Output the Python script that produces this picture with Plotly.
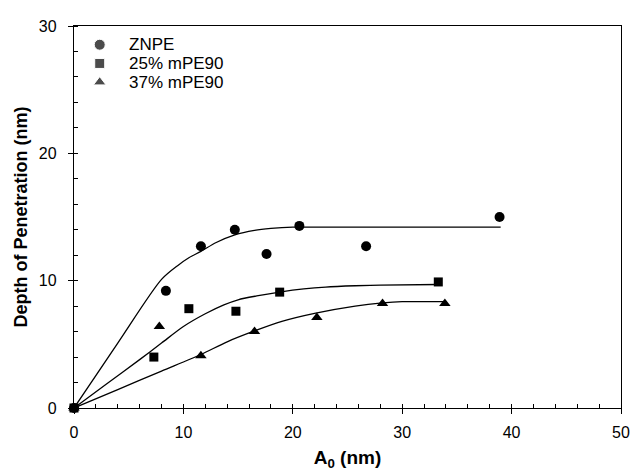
import plotly.graph_objects as go

# Measured data points
znpe_x = [0, 8.4, 11.6, 14.7, 17.6, 20.6, 26.7, 38.9]
znpe_y = [0, 9.2, 12.7, 14.0, 12.1, 14.3, 12.7, 15.0]
pe25_x = [0, 7.3, 10.5, 14.8, 18.8, 33.3]
pe25_y = [0, 4.0, 7.8, 7.6, 9.1, 9.9]
pe37_x = [0, 7.8, 11.6, 16.5, 22.2, 28.2, 33.9]
pe37_y = [0, 6.4, 4.1, 6.0, 7.1, 8.2, 8.2]

# Fitted curves
fit_znpe_x = [0, 4, 8, 9.5, 10.5, 11.6, 13, 14.7, 16.5, 18, 20, 25, 30, 39]
fit_znpe_y = [0, 5.1, 10.1, 11.2, 11.8, 12.3, 13.0, 13.6, 13.95, 14.1, 14.2, 14.2, 14.2, 14.2]
fit_25_x = [0, 3, 6, 8, 10, 12, 13.7, 15, 16.7, 18.8, 21, 23, 25.7, 28, 33.3]
fit_25_y = [0, 1.9, 3.8, 5.1, 6.4, 7.4, 8.1, 8.5, 8.8, 9.1, 9.35, 9.5, 9.6, 9.65, 9.7]
fit_37_x = [0, 4, 8, 11.6, 14, 16.5, 19, 22.1, 25.7, 28.2, 30, 33.9]
fit_37_y = [0, 1.45, 2.9, 4.2, 5.2, 6.05, 6.8, 7.45, 8.0, 8.25, 8.35, 8.35]

names = ["ZNPE", "25% mPE90", "37% mPE90"]
symbols = ["circle", "square", "triangle-up"]
sizes = [10, 9, 10]
legend_sizes = [11, 10, 11]

FONT = "Liberation Sans, Arial"

fig = go.Figure()
for fx, fy in [(fit_znpe_x, fit_znpe_y), (fit_25_x, fit_25_y), (fit_37_x, fit_37_y)]:
    fig.add_trace(go.Scatter(x=fx, y=fy, mode="lines",
                             line=dict(color="black", width=1.3, shape="spline", smoothing=0.8),
                             showlegend=False, hoverinfo="skip", cliponaxis=False))
for (x, y), n, s, sz in zip([(znpe_x, znpe_y), (pe25_x, pe25_y), (pe37_x, pe37_y)], names, symbols, sizes):
    fig.add_trace(go.Scatter(x=x, y=y, mode="markers", name=n, showlegend=False,
                             marker=dict(symbol=s, size=sz, color="black"), cliponaxis=False))

# Legend drawn as key markers on an overlay axis plus text annotations
leg_x = 0.047
leg_text_x = 0.097
leg_rows = [0.951, 0.902, 0.853]
fig.add_trace(go.Scatter(x=[leg_x] * 3, y=leg_rows, mode="markers", xaxis="x2", yaxis="y2",
                         marker=dict(symbol=symbols, size=legend_sizes, color="black"),
                         showlegend=False, hoverinfo="skip"))
for n, ry in zip(names, leg_rows):
    fig.add_annotation(x=leg_text_x, y=ry, xref="paper", yref="paper", text=n, showarrow=False,
                       xanchor="left", yanchor="middle", font=dict(family=FONT, size=17, color="black"))

axis_common = dict(showgrid=False, zeroline=False, showline=True, linecolor="black", linewidth=1.3,
                   mirror=True, ticks="outside", ticklen=5, tickcolor="black", tickwidth=1,
                   tickfont=dict(family=FONT, size=16, color="black"))
fig.update_layout(
    xaxis=dict(range=[0, 50], dtick=10, **axis_common, ticklabelstandoff=5,
               minor=dict(dtick=2, ticks="inside", ticklen=4, tickcolor="black"),
               title=dict(text="<b>A<sub>0</sub> (nm)</b>", font=dict(family=FONT, size=19, color="black"), standoff=10)),
    yaxis=dict(range=[0, 30], dtick=10, **axis_common, ticklabelstandoff=8,
               minor=dict(dtick=2, ticks="inside", ticklen=4, tickcolor="black"),
               title=dict(text="<b>Depth of Penetration (nm)</b>", font=dict(family=FONT, size=18, color="black"), standoff=6)),
    xaxis2=dict(range=[0, 1], overlaying="x", visible=False, fixedrange=True),
    yaxis2=dict(range=[0, 1], overlaying="y", visible=False, fixedrange=True),
)

# page body has an 8px default margin, so the figure is sized and offset for it
fig.update_layout(
    width=632, height=468,
    margin=dict(l=66, r=10, t=12, b=68),
    plot_bgcolor="white", paper_bgcolor="white",
    font=dict(family=FONT, color="black"),
    showlegend=False,
)
fig.write_html("out.html")
